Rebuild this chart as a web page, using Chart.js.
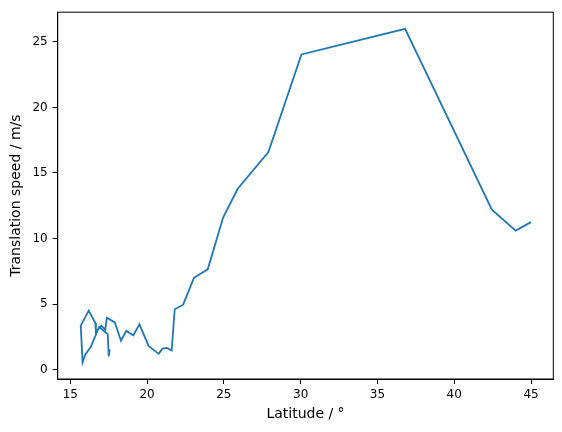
<!DOCTYPE html>
<html>
<head>
<meta charset="utf-8">
<script src="https://cdn.jsdelivr.net/npm/chart.js@4.4.0/dist/chart.umd.min.js"></script>
<style>
  html, body { margin: 0; padding: 0; background: #fff; }
  #chart { display: block; }
</style>
</head>
<body>
<canvas id="chart" width="562" height="432"></canvas>
<script>
// track data (path order as plotted)
const latitude = [17.57, 17.5, 17.44, 16.88, 16.32, 15.98, 15.8, 15.68, 16.2, 16.63, 16.67, 17.02, 17.28, 17.38, 17.9, 18.3,
    18.65, 19.1, 19.5, 20.1, 20.75, 21.0, 21.3, 21.6, 21.8, 22.35, 23.05, 23.95, 24.95, 25.9, 27.9, 30.05, 36.8, 42.45, 44.0, 45.0];
const speed = [1.55, 1.0, 2.7, 3.25, 1.7, 1.15, 0.55, 3.35, 4.5, 3.55, 2.85, 3.35, 3.05, 3.95, 3.6, 2.2,
    2.95, 2.6, 3.45, 1.8, 1.2, 1.6, 1.65, 1.45, 4.6, 4.95, 7.0, 7.65, 11.6, 13.8, 16.6, 24.05, 26.0, 12.2, 10.6, 11.25];
const xTicks = [15, 20, 25, 30, 35, 40, 45];
const yTicks = [0, 5, 10, 15, 20, 25];

const points = latitude.map((lat, i) => ({ x: lat, y: speed[i] }));

const TICK_FONT = { family: 'DejaVu Sans', size: 12 };
const TITLE_FONT = { family: 'DejaVu Sans', size: 14 };

// matplotlib style full box around the axes
const frame = {
    id: 'frame',
    afterDraw(chart) {
        const { ctx, chartArea: a } = chart;
        ctx.save();
        ctx.strokeStyle = '#000';
        ctx.lineWidth = 1;
        ctx.strokeRect(a.left, a.top, a.right - a.left, a.bottom - a.top);
        ctx.restore();
    }
};

new Chart(document.getElementById('chart'), {
    type: 'scatter',
    data: {
        datasets: [{
            data: points,
            showLine: true,
            borderColor: '#1f77b4',
            borderWidth: 1.8,
            pointRadius: 0,
            fill: false,
            tension: 0
        }]
    },
    options: {
        responsive: false,
        animation: false,
        layout: { padding: { top: 10, right: 8.7, left: 0, bottom: 0 } },
        plugins: { legend: { display: false }, tooltip: { enabled: false } },
        scales: {
            x: {
                type: 'linear',
                min: 14.18,
                max: 46.45,
                afterBuildTicks: (s) => { s.ticks = xTicks.map(v => ({ value: v })); },
                afterFit: (s) => { s.height = 53; },
                grid: { drawOnChartArea: false, drawTicks: true, tickLength: 5, color: '#000', tickWidth: 1 },
                border: { display: true, color: '#000', width: 1 },
                ticks: { color: '#000', font: TICK_FONT, padding: 4, maxRotation: 0 },
                title: { display: true, text: 'Latitude / °', color: '#000', font: TITLE_FONT, padding: { top: 0, bottom: 9.3 } }
            },
            y: {
                type: 'linear',
                min: -0.72,
                max: 27.27,
                afterBuildTicks: (s) => { s.ticks = yTicks.map(v => ({ value: v })); },
                afterFit: (s) => { s.width = 57.7; },
                grid: { drawOnChartArea: false, drawTicks: true, tickLength: 5, color: '#000', tickWidth: 1 },
                border: { display: true, color: '#000', width: 1 },
                ticks: { color: '#000', font: TICK_FONT, padding: 5 },
                title: { display: true, text: 'Translation speed / m/s', color: '#000', font: TITLE_FONT, padding: { top: 8.4, bottom: 0 } }
            }
        }
    },
    plugins: [frame]
});
</script>
</body>
</html>
